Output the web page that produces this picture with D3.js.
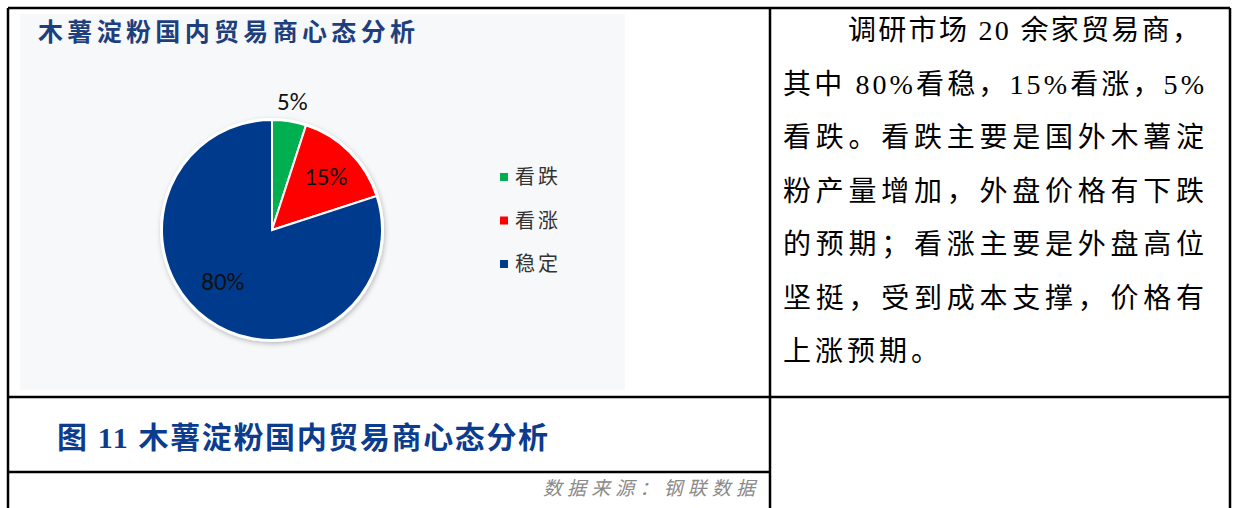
<!DOCTYPE html>
<html>
<head>
<meta charset="utf-8">
<script src="https://cdn.jsdelivr.net/npm/d3@7"></script>
<style>
  body { margin: 0; background: #fff; }
  svg { display: block; }
</style>
</head>
<body>
<svg id="chart" width="1235" height="508"></svg>
<script>
// data
const categories = ["看跌", "看涨", "稳定"];
const shares = [5, 15, 80];
const sliceColors = ["#00b050", "#ff0000", "#003a8c"];
const chartTitle = "木薯淀粉国内贸易商心态分析";
const caption = "图 11 木薯淀粉国内贸易商心态分析";
const source = "数据来源：钢联数据";
const bodyLines = [
    "调研市场 20 余家贸易商，",
    "其中 80%看稳，15%看涨，5%",
    "看跌。看跌主要是国外木薯淀",
    "粉产量增加，外盘价格有下跌",
    "的预期；看涨主要是外盘高位",
    "坚挺，受到成本支撑，价格有",
    "上涨预期。"
];

let svg = d3.select("#chart");
let serif = "'Liberation Serif', 'Noto Sans CJK SC', serif";

let defs = svg.append("defs");
let shadow = defs.append("filter").attr("id", "shadow")
    .attr("x", "-20%").attr("y", "-20%").attr("width", "140%").attr("height", "140%");
shadow.append("feDropShadow")
    .attr("dx", 1).attr("dy", 2).attr("stdDeviation", 2.5)
    .attr("flood-color", "#000").attr("flood-opacity", 0.25);

// chart picture background
svg.append("rect")
    .attr("x", 20).attr("y", 14).attr("width", 605).attr("height", 376)
    .attr("fill", "#f7f8f9");

svg.append("text")
    .attr("x", 38).attr("y", 41)
    .attr("font-family", serif)
    .attr("font-size", 25).attr("font-weight", "bold")
    .attr("fill", "#1d3f7e")
    .attr("textLength", 377).attr("lengthAdjust", "spacing")
    .text(chartTitle);

// pie
let cx = 272, cy = 230, radius = 110;
let pie = d3.pie().sort(null).value(d => d)(shares);
let arc = d3.arc().innerRadius(0).outerRadius(radius);
let color = d3.scaleOrdinal().domain(categories).range(sliceColors);

let pieG = svg.append("g").attr("transform", "translate(" + cx + "," + cy + ")");

pieG.append("circle")
    .attr("r", radius + 2)
    .attr("fill", "#fff")
    .attr("filter", "url(#shadow)");

pieG.selectAll("path.slice")
    .data(pie)
    .enter().append("path")
    .attr("class", "slice")
    .attr("d", arc)
    .attr("fill", (d, i) => color(categories[i]))
    .attr("stroke", "#fff")
    .attr("stroke-width", 2);

// labels: first one sits outside, the others inside
let labelRadius = [130, 76, 70];
pieG.selectAll("text.lbl")
    .data(pie)
    .enter().append("text")
    .attr("class", "lbl")
    .attr("x", (d, i) => Math.sin((d.startAngle + d.endAngle) / 2) * labelRadius[i] - (i === 2 ? 8 : 0))
    .attr("y", (d, i) => -Math.cos((d.startAngle + d.endAngle) / 2) * labelRadius[i] - (i === 2 ? 5 : 0))
    .attr("dy", "0.35em")
    .attr("text-anchor", "middle")
    .attr("font-family", "Carlito, 'Open Sans', 'Liberation Sans', sans-serif")
    .attr("font-size", 25)
    .attr("fill", "#111")
    .text(d => d.data + "%");

// legend
let legendY = d3.scalePoint().domain(categories).range([177, 264]);
let legend = svg.append("g");
legend.selectAll("rect")
    .data(categories)
    .enter().append("rect")
    .attr("x", 500).attr("y", d => legendY(d) - 4)
    .attr("width", 8).attr("height", 8)
    .attr("fill", d => color(d));
legend.selectAll("text")
    .data(categories)
    .enter().append("text")
    .attr("x", 515).attr("y", d => legendY(d))
    .attr("dy", "0.36em")
    .attr("font-family", serif)
    .attr("font-size", 20)
    .attr("letter-spacing", 3)
    .attr("fill", "#333")
    .text(d => d);

// right hand paragraph
let lineY = d3.scalePoint().domain(d3.range(bodyLines.length)).range([40, 361]);
svg.selectAll("text.body")
    .data(bodyLines)
    .enter().append("text")
    .attr("class", "body")
    .attr("x", (d, i) => i === 0 ? 848 : 783)
    .attr("y", (d, i) => lineY(i))
    .attr("font-family", serif)
    .attr("font-size", 28)
    .attr("fill", "#000")
    .each(function (d, i) {
        let t = d3.select(this);
        if (i === 0) t.attr("textLength", 352).attr("lengthAdjust", "spacing");
        else if (i < bodyLines.length - 1) t.attr("textLength", 421).attr("lengthAdjust", "spacing");
        else t.attr("letter-spacing", 4);
    })
    .text(d => d);

// caption and source
svg.append("text")
    .attr("x", 57).attr("y", 448)
    .attr("font-family", serif)
    .attr("font-size", 30).attr("font-weight", "bold")
    .attr("fill", "#0c3c8e")
    .attr("textLength", 491).attr("lengthAdjust", "spacing")
    .text(caption);

svg.append("text")
    .attr("x", 755).attr("y", 495)
    .attr("text-anchor", "end")
    .attr("font-family", serif)
    .attr("font-size", 19).attr("font-style", "italic")
    .attr("fill", "#8a8a8a")
    .attr("textLength", 212).attr("lengthAdjust", "spacing")
    .text(source);

// table rules
let rules = [
    [8, 8, 1230, 8],
    [8, 8, 8, 508],
    [770, 8, 770, 508],
    [1230, 8, 1230, 508],
    [8, 397, 1230, 397],
    [8, 472, 770, 472]
];
svg.selectAll("line.rule")
    .data(rules)
    .enter().append("line")
    .attr("class", "rule")
    .attr("x1", d => d[0]).attr("y1", d => d[1])
    .attr("x2", d => d[2]).attr("y2", d => d[3])
    .attr("stroke", "#000")
    .attr("stroke-width", 2.5);
</script>
</body>
</html>
